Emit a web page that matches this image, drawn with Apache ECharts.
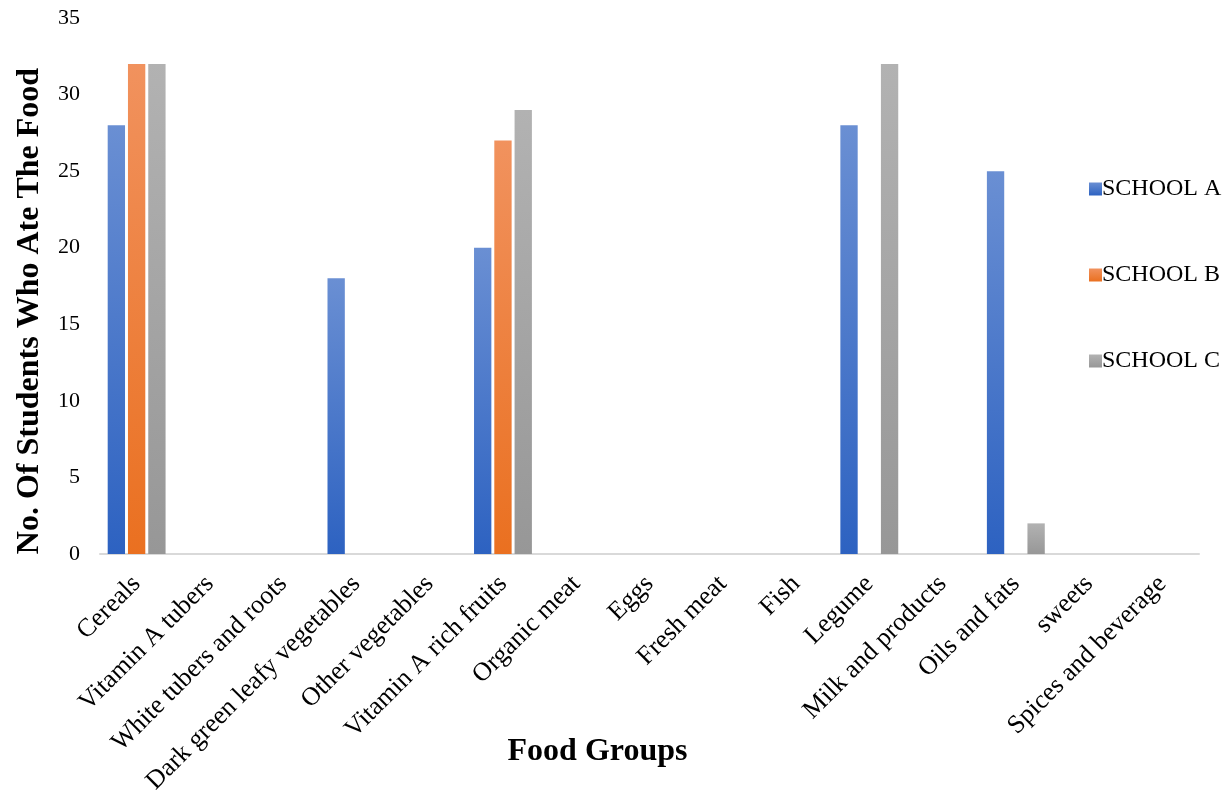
<!DOCTYPE html>
<html><head><meta charset="utf-8">
<script src="https://cdn.jsdelivr.net/npm/echarts@6/dist/echarts.min.js"></script>
<style>html,body{margin:0;padding:0;background:#fff}#c{width:1225px;height:796px}</style>
</head><body><div id="c"></div>
<script>
const categories = ["Cereals","Vitamin A tubers","White tubers and roots","Dark green leafy vegetables","Other vegetables","Vitamin A rich fruits","Organic meat","Eggs","Fresh meat","Fish","Legume","Milk and products","Oils and fats","sweets","Spices and beverage"];
const schoolA = [28,0,0,18,0,20,0,0,0,0,28,0,25,0,0];
const schoolB = [32,0,0,0,0,27,0,0,0,0,0,0,0,0,0];
const schoolC = [32,0,0,0,0,29,0,0,0,0,32,0,2,0,0];
const seriesNames = ["SCHOOL A","SCHOOL B","SCHOOL C"];
const yTicks = [0,5,10,15,20,25,30,35];

const font = '"Liberation Serif","Times New Roman",serif';
function grad(top, bottom){
  return new echarts.graphic.LinearGradient(0,0,0,1,[{offset:0,color:top},{offset:1,color:bottom}]);
}
const fills = [grad('#6a8fd3','#2d62c1'), grad('#f1925e','#ea7020'), grad('#b2b2b2','#979797')];
const chart = echarts.init(document.getElementById('c'));
chart.setOption({
  animation:false,
  textStyle:{fontFamily:font},
  grid:{left:100,right:26,top:18,bottom:242,containLabel:false,outerBoundsMode:'none'},
  legend:{
    orient:'vertical', left:1084, top:172, itemGap:62,
    itemWidth:13, itemHeight:13, icon:'rect',
    textStyle:{fontFamily:font,fontSize:24,lineHeight:24,color:'#000',padding:[0,0,0,-5]},
    data:seriesNames
  },
  xAxis:{
    type:'category', data:categories,
    name:'Food Groups', nameLocation:'middle', nameGap:182, nameMoveOverlap:false,
    nameTextStyle:{fontFamily:font,fontSize:32,fontWeight:'bold',color:'#000',padding:[0,104,0,0]},
    axisLine:{lineStyle:{color:'#d9d9d9',width:2}},
    axisTick:{show:false},
    axisLabel:{rotate:45,interval:0,fontFamily:font,fontSize:26,color:'#000',margin:26}
  },
  yAxis:{
    type:'value', min:yTicks[0], max:yTicks[yTicks.length-1], interval:5,
    name:'No. Of Students Who Ate The Food', nameLocation:'middle', nameGap:54, nameMoveOverlap:false,
    nameTextStyle:{fontFamily:font,fontSize:32,fontWeight:'bold',color:'#000',padding:[0,50,0,0]},
    axisLine:{show:false}, axisTick:{show:false}, splitLine:{show:false},
    axisLabel:{fontFamily:font,fontSize:22,color:'#000',margin:20}
  },
  series:[schoolA,schoolB,schoolC].map((d,i)=>({
    name:seriesNames[i], type:'bar', data:d,
    barGap:'17%', barCategoryGap:'21%',
    itemStyle:{color:fills[i]}
  }))
});
</script></body></html>
